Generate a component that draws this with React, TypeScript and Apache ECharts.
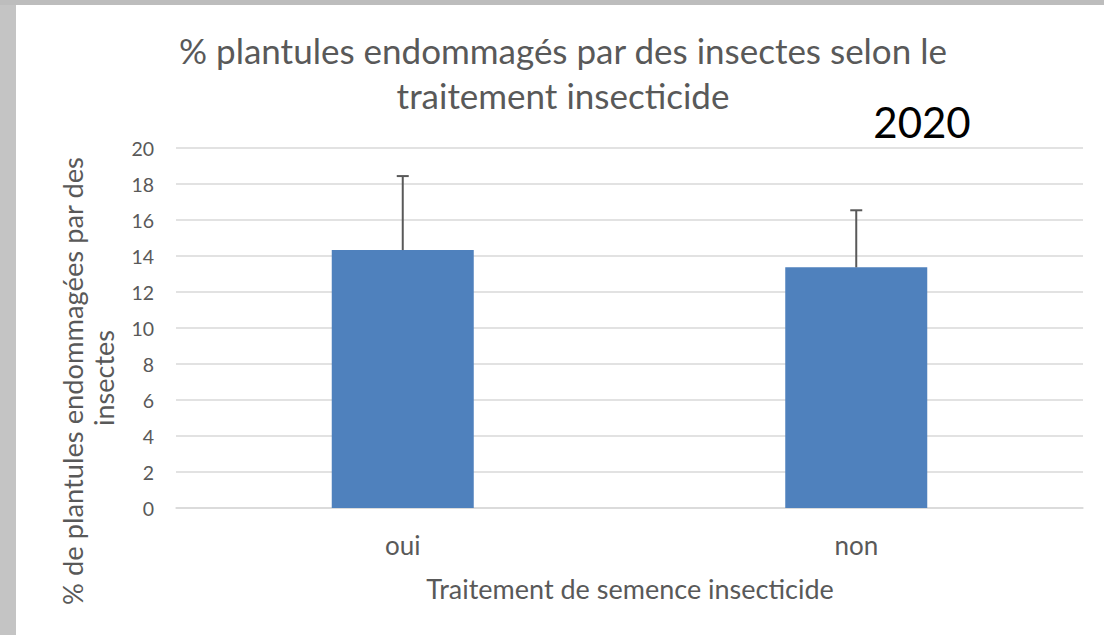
import React, { useEffect, useRef } from "react";
import * as echarts from "echarts";

const categories = ["oui", "non"];
const means = [14.33, 13.37];
const upperErrors = [18.44, 16.54];
const yTicks = { min: 0, max: 20, interval: 2 };

const titleLines = ["% plantules endommagés par des insectes selon le", "traitement insecticide"];
const yearLabel = "2020";
const xAxisTitle = "Traitement de semence insecticide";
const yAxisTitleLines = ["% de plantules endommagées par des", "insectes"];

const FONT = "Lato, 'Open Sans', sans-serif";

export default function App() {
  const ref = useRef<HTMLDivElement>(null);
  useEffect(() => {
    document.body.style.margin = "0";
    const chart = echarts.init(ref.current!, undefined, { renderer: "svg" });
    const errData = categories.map((_, i) => [i, means[i], upperErrors[i]]);
    chart.setOption({
      animation: false,
      backgroundColor: "#ffffff",
      textStyle: { fontFamily: FONT },
      grid: { left: 176, right: 21, top: 148, bottom: 127, containLabel: false },
      xAxis: {
        type: "category",
        data: categories,
        axisLine: { show: true, lineStyle: { color: "#D9D9D9", width: 1.5 } },
        axisTick: { show: false },
        axisLabel: { color: "#595959", fontSize: 26, margin: 24, fontFamily: FONT },
      },
      yAxis: {
        type: "value",
        min: yTicks.min,
        max: yTicks.max,
        interval: yTicks.interval,
        axisLine: { show: false },
        axisTick: { show: false },
        splitLine: { lineStyle: { color: "#D9D9D9", width: 1.5 } },
        axisLabel: { color: "#595959", fontSize: 19.5, margin: 22, fontFamily: FONT },
      },
      graphic: [
        { type: "rect", shape: { x: 0, y: 0, width: 16, height: 635 }, style: { fill: "#C4C4C4" }, silent: true },
        { type: "rect", shape: { x: 0, y: 0, width: 1104, height: 5 }, style: { fill: "#BDBDBD" }, silent: true },
        {
          type: "text", x: 563, y: 50,
          style: { text: titleLines[0], fill: "#595959", font: `35px ${FONT}`, textAlign: "center", textVerticalAlign: "middle" },
        },
        {
          type: "text", x: 563, y: 95,
          style: { text: titleLines[1], fill: "#595959", font: `35px ${FONT}`, textAlign: "center", textVerticalAlign: "middle" },
        },
        {
          type: "text", x: 922, y: 122,
          style: { text: yearLabel, fill: "#000000", font: `42px ${FONT}`, textAlign: "center", textVerticalAlign: "middle" },
        },
        {
          type: "text", x: 630, y: 588,
          style: { text: xAxisTitle, fill: "#595959", font: `27px ${FONT}`, textAlign: "center", textVerticalAlign: "middle" },
        },
        {
          type: "text", x: 72, y: 381, rotation: Math.PI / 2,
          style: { text: yAxisTitleLines[0], fill: "#595959", font: `27.3px ${FONT}`, textAlign: "center", textVerticalAlign: "middle" },
        },
        {
          type: "text", x: 103, y: 378, rotation: Math.PI / 2,
          style: { text: yAxisTitleLines[1], fill: "#595959", font: `27px ${FONT}`, textAlign: "center", textVerticalAlign: "middle" },
        },
      ],
      series: [
        {
          type: "bar",
          data: means,
          barWidth: 142,
          itemStyle: { color: "#4F81BD" },
          z: 2,
        },
        {
          type: "custom",
          data: errData,
          z: 3,
          renderItem: (params: any, api: any) => {
            const x = api.value(0);
            const lo = api.coord([x, api.value(1)]);
            const hi = api.coord([x, api.value(2)]);
            const half = 6;
            const style = { stroke: "#595959", lineWidth: 2 };
            return {
              type: "group",
              children: [
                { type: "line", shape: { x1: lo[0], y1: lo[1], x2: hi[0], y2: hi[1] }, style },
                { type: "line", shape: { x1: hi[0] - half, y1: hi[1], x2: hi[0] + half, y2: hi[1] }, style },
              ],
            };
          },
        },
      ],
    });
    return () => chart.dispose();
  }, []);
  return <div ref={ref} style={{ position: "absolute", left: 0, top: 0, width: 1104, height: 635 }} />;
}
